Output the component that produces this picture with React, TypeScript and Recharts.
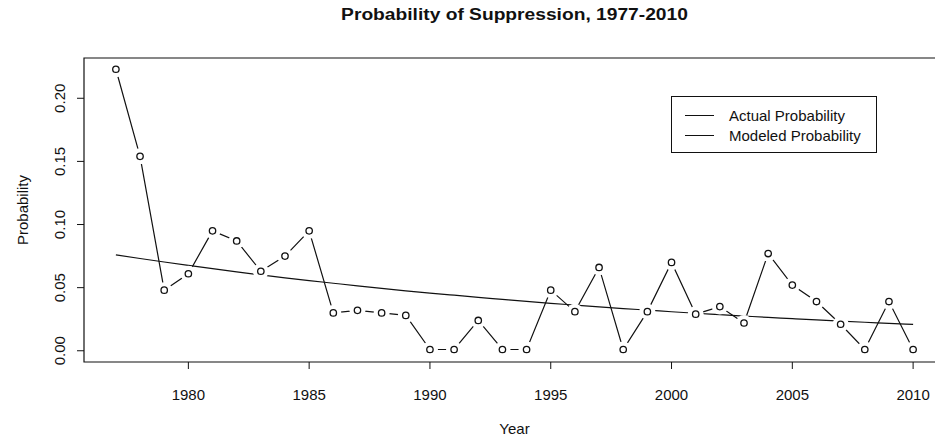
import { LineChart, Line, XAxis, YAxis, Legend, ReferenceArea, Label } from 'recharts'

const FONT = '"Liberation Sans", Arial, Helvetica, sans-serif'
const INK = '#111'

const years = [
  1977, 1978, 1979, 1980, 1981, 1982, 1983, 1984, 1985, 1986, 1987, 1988,
  1989, 1990, 1991, 1992, 1993, 1994, 1995, 1996, 1997, 1998, 1999, 2000,
  2001, 2002, 2003, 2004, 2005, 2006, 2007, 2008, 2009, 2010
]

const actualProb = [
  0.223, 0.154, 0.048, 0.061, 0.095, 0.087, 0.063, 0.075, 0.095, 0.030, 0.032, 0.030,
  0.028, 0.001, 0.001, 0.024, 0.001, 0.001, 0.048, 0.031, 0.066, 0.001, 0.031, 0.070,
  0.029, 0.035, 0.022, 0.077, 0.052, 0.039, 0.021, 0.001, 0.039, 0.001
]

// fitted trend
const modeledProb = [
  0.0760, 0.0731, 0.0703, 0.0676, 0.0650, 0.0625, 0.0601, 0.0578, 0.0556, 0.0535,
  0.0514, 0.0494, 0.0475, 0.0457, 0.0440, 0.0423, 0.0407, 0.0391, 0.0376, 0.0362,
  0.0348, 0.0334, 0.0322, 0.0309, 0.0297, 0.0286, 0.0275, 0.0264, 0.0254, 0.0244,
  0.0235, 0.0226, 0.0217, 0.0209
]

const xTicks = [1980, 1985, 1990, 1995, 2000, 2005, 2010]
const yTicks = [0, 0.05, 0.1, 0.15, 0.2]

// R-style 4% padding on both axes
const xDomain = [1975.68, 2011.32]
const yDomain = [-0.0089, 0.2319]

const data = years.map((year, i) => ({
  year,
  actual: actualProb[i],
  modeled: modeledProb[i]
}))

const YTick = ({ x, y, payload }: any) => (
  <text
    x={x}
    y={y}
    transform={`rotate(-90, ${x}, ${y})`}
    textAnchor="middle"
    fontSize={15}
    fontFamily={FONT}
    fill={INK}
  >
    {Number(payload.value).toFixed(2)}
  </text>
)

const YLabel = ({ viewBox }: any) => {
  const cy = viewBox.y + viewBox.height / 2
  return (
    <text
      x={28}
      y={cy}
      transform={`rotate(-90, 28, ${cy})`}
      textAnchor="middle"
      fontSize={15}
      fontFamily={FONT}
      fill={INK}
    >
      Probability
    </text>
  )
}

// open circle with a white halo so the connecting lines stop short (type="b")
const ActualDot = ({ cx, cy, index }: any) => (
  <g key={`dot-${index}`}>
    <circle cx={cx} cy={cy} r={8} fill="#fff" />
    <circle cx={cx} cy={cy} r={3.2} fill="#fff" stroke={INK} strokeWidth={1.3} />
  </g>
)

const renderLegend = ({ payload }: any) => (
  <div
    style={{
      border: `1px solid ${INK}`,
      width: 206,
      height: 57,
      boxSizing: 'border-box',
      background: '#fff',
      fontFamily: FONT,
      fontSize: 15,
      color: INK,
      paddingTop: 8
    }}
  >
    {(payload || [])
      .filter((entry: any) => entry.type !== 'none')
      .map((entry: any) => (
        <div
          key={entry.value}
          style={{ display: 'flex', alignItems: 'center', height: 20 }}
        >
          <span
            style={{
              display: 'inline-block',
              width: 29,
              borderTop: `1px solid ${INK}`,
              marginLeft: 13,
              marginRight: 15
            }}
          />
          <span style={{ whiteSpace: 'nowrap' }}>{entry.value}</span>
        </div>
      ))}
  </div>
)

export default function App() {
  return (
    <div
      style={{
        position: 'absolute',
        left: 0,
        top: 0,
        width: 935,
        height: 438,
        overflow: 'hidden',
        background: '#fff'
      }}
    >
      <div
        style={{
          position: 'absolute',
          left: 0,
          top: 6,
          width: 1029,
          textAlign: 'center',
          fontFamily: FONT,
          fontWeight: 'bold',
          fontSize: 16,
          color: INK,
          zIndex: 2
        }}
      >
        <span style={{ display: 'inline-block', transform: 'scaleX(1.2)' }}>
          Probability of Suppression, 1977-2010
        </span>
      </div>
      <LineChart
        width={960}
        height={438}
        data={data}
        margin={{ top: 58, right: 15, left: 0, bottom: 0 }}
      >
        <XAxis
          dataKey="year"
          type="number"
          domain={xDomain}
          ticks={xTicks}
          allowDataOverflow
          axisLine={false}
          tickLine={{ stroke: INK }}
          tickSize={7}
          tickMargin={20}
          height={76}
          tick={{ fontSize: 15, fontFamily: FONT, fill: INK }}
        >
          <Label
            value="Year"
            position="insideBottom"
            offset={4}
            style={{ fontSize: 15, fontFamily: FONT, fill: INK }}
          />
        </XAxis>
        <YAxis
          type="number"
          domain={yDomain}
          ticks={yTicks}
          allowDataOverflow
          axisLine={false}
          tickLine={{ stroke: INK }}
          tickSize={7}
          tickMargin={12}
          width={84}
          tick={<YTick />}
        >
          <Label content={<YLabel />} />
        </YAxis>
        <ReferenceArea
          x1={xDomain[0]}
          x2={xDomain[1]}
          y1={yDomain[0]}
          y2={yDomain[1]}
          fill="none"
          stroke={INK}
          strokeWidth={1.2}
        />
        <Legend
          layout="vertical"
          align="center"
          verticalAlign="middle"
          content={renderLegend}
          wrapperStyle={{ left: 671, top: 96, width: 206, height: 57 }}
        />
        <Line
          name="Actual Probability"
          dataKey="actual"
          type="linear"
          stroke={INK}
          strokeWidth={1.2}
          dot={false}
          activeDot={false}
          isAnimationActive={false}
        />
        {/* markers drawn on top of the connecting line, halos leave the gaps */}
        <Line
          name="Actual points"
          dataKey="actual"
          type="linear"
          stroke="none"
          legendType="none"
          dot={<ActualDot />}
          activeDot={false}
          isAnimationActive={false}
        />
        <Line
          name="Modeled Probability"
          dataKey="modeled"
          type="monotone"
          stroke={INK}
          strokeWidth={1.2}
          dot={false}
          activeDot={false}
          isAnimationActive={false}
        />
      </LineChart>
    </div>
  )
}
